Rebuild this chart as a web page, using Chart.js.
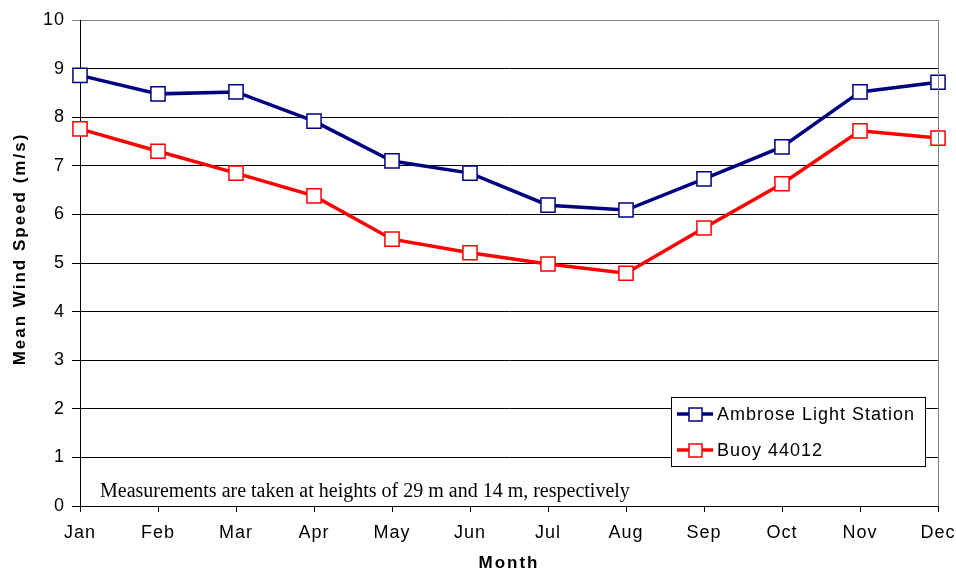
<!DOCTYPE html>
<html>
<head>
<meta charset="utf-8">
<script src="https://cdn.jsdelivr.net/npm/chart.js@4"></script>
<style>
  body { margin: 0; background: #fff; }
  #c { display: block; }
</style>
</head>
<body>
<canvas id="c" width="956" height="571"></canvas>
<script>
const months = ['Jan', 'Feb', 'Mar', 'Apr', 'May', 'Jun', 'Jul', 'Aug', 'Sep', 'Oct', 'Nov', 'Dec'];
const ambrose = [8.86, 8.48, 8.52, 7.92, 7.10, 6.85, 6.19, 6.09, 6.73, 7.39, 8.52, 8.72];
const buoy = [7.76, 7.30, 6.85, 6.38, 5.49, 5.21, 4.98, 4.79, 5.72, 6.63, 7.72, 7.57];
const yTicks = [0, 1, 2, 3, 4, 5, 6, 7, 8, 9, 10];
const note = 'Measurements are taken at heights of 29 m and 14 m, respectively';
const xTitle = 'Month';
const yTitle = 'Mean Wind Speed (m/s)';

// легенда, подписи осей и примечание
const extras = {
  id: 'extras',
  beforeDraw(chart) {
    chart.ctx.letterSpacing = '1px';
  },
  afterDraw(chart) {
    const ctx = chart.ctx;
    const a = chart.chartArea;
    ctx.save();
    // рамка справа
    ctx.strokeStyle = '#808080';
    ctx.lineWidth = 1;
    ctx.beginPath();
    ctx.moveTo(a.right + 0.5, a.top);
    ctx.lineTo(a.right + 0.5, a.bottom);
    ctx.stroke();

    // легенда
    const lx = 671, ly = 397, lw = 254, lh = 69;
    ctx.fillStyle = '#fff';
    ctx.fillRect(lx, ly, lw, lh);
    ctx.strokeStyle = '#000';
    ctx.strokeRect(lx + 0.5, ly + 0.5, lw, lh);
    const items = [
      { label: 'Ambrose Light Station', color: '#000080', y: ly + 17 },
      { label: 'Buoy 44012', color: '#ff0000', y: ly + 53 }
    ];
    ctx.font = '18px Arial';
    ctx.textBaseline = 'middle';
    ctx.letterSpacing = '1px';
    items.forEach(it => {
      ctx.strokeStyle = it.color;
      ctx.lineWidth = 3.5;
      ctx.beginPath();
      ctx.moveTo(lx + 6, it.y);
      ctx.lineTo(lx + 42, it.y);
      ctx.stroke();
      ctx.fillStyle = '#fff';
      ctx.fillRect(lx + 18, it.y - 6, 13, 13);
      ctx.lineWidth = 1.5;
      ctx.strokeRect(lx + 18, it.y - 6, 13, 13);
      ctx.fillStyle = '#000';
      ctx.fillText(it.label, lx + 46, it.y + 1);
    });

    // примечание
    ctx.letterSpacing = '0px';
    ctx.font = '20px "Liberation Serif", "Times New Roman", serif';
    ctx.fillStyle = '#000';
    ctx.textBaseline = 'alphabetic';
    ctx.textAlign = 'left';
    ctx.fillText(note, 100, 497);

    // подписи осей
    ctx.letterSpacing = '2px';
    ctx.font = 'bold 17px Arial';
    ctx.textAlign = 'center';
    ctx.textBaseline = 'middle';
    ctx.fillText(xTitle, 509, 563);
    ctx.translate(20, 249);
    ctx.rotate(-Math.PI / 2);
    ctx.fillText(yTitle, 0, 0);
    ctx.restore();
  }
};

new Chart(document.getElementById('c'), {
  type: 'line',
  data: {
    labels: months,
    datasets: [
      {
        label: 'Ambrose Light Station',
        data: ambrose,
        borderColor: '#000080',
        backgroundColor: '#fff',
        borderWidth: 3.5,
        pointStyle: 'rect',
        pointRadius: 10,
        pointBorderWidth: 1.5,
        pointBorderColor: '#000080',
        pointBackgroundColor: '#fff',
        tension: 0
      },
      {
        label: 'Buoy 44012',
        data: buoy,
        borderColor: '#ff0000',
        backgroundColor: '#fff',
        borderWidth: 3.5,
        pointStyle: 'rect',
        pointRadius: 10,
        pointBorderWidth: 1.5,
        pointBorderColor: '#ff0000',
        pointBackgroundColor: '#fff',
        tension: 0
      }
    ]
  },
  options: {
    responsive: false,
    animation: false,
    layout: { padding: { top: 20, right: 18, left: 0, bottom: 0 } },
    plugins: {
      legend: { display: false },
      tooltip: { enabled: false }
    },
    scales: {
      x: {
        offset: false,
        afterFit: s => { s.height = 65; s.paddingLeft = 0; s.paddingRight = 0; },
        grid: { drawOnChartArea: false, drawTicks: true, tickLength: 6, color: '#000' },
        border: { color: '#000', width: 1 },
        ticks: { color: '#000', font: { size: 18, family: 'Arial' }, padding: 10, maxRotation: 0 }
      },
      y: {
        min: 0,
        max: 10,
        afterFit: s => { s.width = 80; },
        afterBuildTicks: s => { s.ticks = yTicks.map(v => ({ value: v })); },
        grid: {
          color: ctx => ctx.tick && ctx.tick.value === 10 ? '#808080' : '#000',
          tickLength: 8,
          lineWidth: 1
        },
        border: { color: '#000', width: 1 },
        ticks: { color: '#000', font: { size: 18, family: 'Arial' }, padding: 7 }
      }
    }
  },
  plugins: [extras]
});
</script>
</body>
</html>
